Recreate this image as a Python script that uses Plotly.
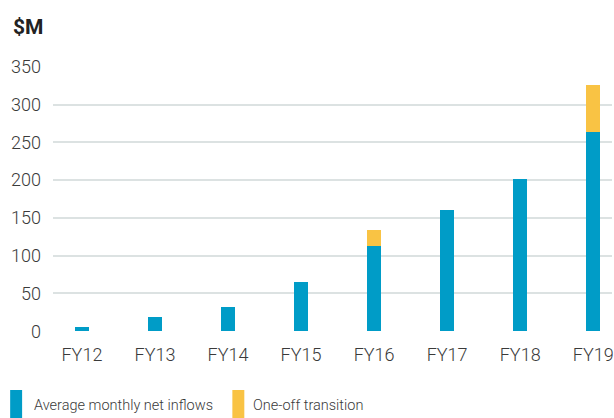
import plotly.graph_objects as go

categories = ["FY12", "FY13", "FY14", "FY15", "FY16", "FY17", "FY18", "FY19"]
avg_monthly = [5, 19, 32, 65, 113, 160, 201, 264]
one_off = [0, 0, 0, 0, 21, 0, 0, 62]
y_ticks = [0, 50, 100, 150, 200, 250, 300, 350]

BLUE = "#009cc7"
YELLOW = "#f9c344"
TEXT = "#3a3a3a"
FONT = "Roboto, Lato, sans-serif"

W, H = 614, 418
L, R, T, B = 53, 0, 66, 86
pw, ph = W - L - R, H - T - B

def px_x(x):
    return (x - L) / pw

def px_y(y):
    return (H - B - y) / ph

fig = go.Figure()
fig.add_trace(go.Bar(x=categories, y=avg_monthly, name="Average monthly net inflows",
                     marker=dict(color=BLUE, line=dict(width=0)), width=0.19))
fig.add_trace(go.Bar(x=categories, y=one_off, name="One-off transition",
                     marker=dict(color=YELLOW, line=dict(width=0)), width=0.19))

tick_font = dict(family=FONT, size=18, color=TEXT, weight=300)

fig.update_layout(
    width=W, height=H,
    margin=dict(l=L, r=R, t=T, b=B),
    barmode="stack",
    showlegend=False,
    plot_bgcolor="white", paper_bgcolor="white",
    font=dict(family=FONT, color=TEXT, size=18),
)
fig.update_xaxes(type="category", categoryorder="array", categoryarray=categories,
                 range=[-0.396, 7.257], showgrid=False, zeroline=False, showline=False,
                 ticks="", ticklabelstandoff=10, tickfont=tick_font)
fig.update_yaxes(range=[-1, 351], tickvals=y_ticks, ticktext=[str(v) for v in y_ticks],
                 showgrid=True, gridcolor="#dce2e2", gridwidth=1.5, zeroline=False,
                 showline=False, ticks="", ticklabelstandoff=11, tickfont=tick_font)

fig.add_annotation(text="<b>$M</b>", xref="paper", yref="paper", x=px_x(11), y=px_y(27),
                   xanchor="left", yanchor="middle", showarrow=False,
                   font=dict(family=FONT, size=21, color="#222222"))

legend_items = [("Average monthly net inflows", BLUE, 10, 32), ("One-off transition", YELLOW, 233, 252)]
for label, color, sx, tx in legend_items:
    fig.add_shape(type="rect", xref="paper", yref="paper",
                  x0=px_x(sx), x1=px_x(sx + 12), y0=px_y(390), y1=px_y(420),
                  fillcolor=color, line=dict(width=0))
    fig.add_annotation(text=label, xref="paper", yref="paper", x=px_x(tx), y=px_y(405),
                       xanchor="left", yanchor="middle", showarrow=False,
                       font=dict(family=FONT, size=14.5, color=TEXT, weight=300))

fig.write_html("out.html", config={"displayModeBar": False},
               post_script="document.body.style.margin='0';")
